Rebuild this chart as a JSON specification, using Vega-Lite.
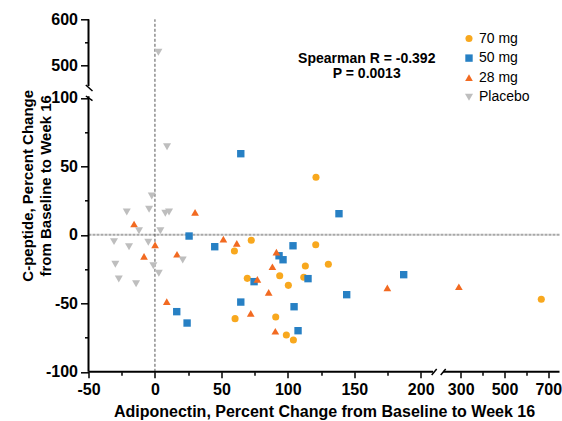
{
  "$schema": "https://vega.github.io/schema/vega-lite/v6.json",
  "autosize": {"type": "none"},
  "width": 471,
  "height": 352.5,
  "padding": {"left": 88.5, "top": 19.3, "right": 2.5, "bottom": 49.2},
  "background": "white",
  "config": {"view": {"stroke": null}, "font": "Liberation Sans"},
  "datasets": {
    "points": [
      {"group": "70 mg", "x": 72.5, "y": -4.0},
      {"group": "70 mg", "x": 59.8, "y": -11.8},
      {"group": "70 mg", "x": 69.5, "y": -31.8},
      {"group": "70 mg", "x": 60.3, "y": -61.2},
      {"group": "70 mg", "x": 121.2, "y": 42.0},
      {"group": "70 mg", "x": 121.0, "y": -7.2},
      {"group": "70 mg", "x": 113.2, "y": -22.8},
      {"group": "70 mg", "x": 130.5, "y": -21.5},
      {"group": "70 mg", "x": 93.9, "y": -29.9},
      {"group": "70 mg", "x": 112.0, "y": -31.0},
      {"group": "70 mg", "x": 100.4, "y": -36.9},
      {"group": "70 mg", "x": 90.9, "y": -60.0},
      {"group": "70 mg", "x": 98.9, "y": -73.1},
      {"group": "70 mg", "x": 104.2, "y": -76.8},
      {"group": "70 mg", "x": 668, "y": -47.1},
      {"group": "50 mg", "x": 64.6, "y": 59.2},
      {"group": "50 mg", "x": 25.7, "y": -0.9},
      {"group": "50 mg", "x": 45.0, "y": -8.7},
      {"group": "50 mg", "x": 74.6, "y": -34.2},
      {"group": "50 mg", "x": 64.6, "y": -49.1},
      {"group": "50 mg", "x": 16.4, "y": -56.1},
      {"group": "50 mg", "x": 24.2, "y": -64.4},
      {"group": "50 mg", "x": 138.5, "y": 15.4},
      {"group": "50 mg", "x": 103.9, "y": -8.0},
      {"group": "50 mg", "x": 93.4, "y": -15.3},
      {"group": "50 mg", "x": 96.4, "y": -18.2},
      {"group": "50 mg", "x": 115.2, "y": -32.0},
      {"group": "50 mg", "x": 144.3, "y": -43.7},
      {"group": "50 mg", "x": 187.2, "y": -29.1},
      {"group": "50 mg", "x": 104.7, "y": -52.5},
      {"group": "50 mg", "x": 107.7, "y": -70.0},
      {"group": "28 mg", "x": -15.7, "y": 7.9},
      {"group": "28 mg", "x": 30.2, "y": 16.4},
      {"group": "28 mg", "x": 0.1, "y": -7.4},
      {"group": "28 mg", "x": 51.5, "y": -3.1},
      {"group": "28 mg", "x": 61.6, "y": -6.2},
      {"group": "28 mg", "x": -8.2, "y": -15.7},
      {"group": "28 mg", "x": 16.6, "y": -14.2},
      {"group": "28 mg", "x": 77.1, "y": -32.5},
      {"group": "28 mg", "x": 8.9, "y": -48.8},
      {"group": "28 mg", "x": 72.1, "y": -57.3},
      {"group": "28 mg", "x": 91.4, "y": -12.6},
      {"group": "28 mg", "x": 88.4, "y": -23.3},
      {"group": "28 mg", "x": 85.6, "y": -42.0},
      {"group": "28 mg", "x": 174.9, "y": -38.8},
      {"group": "28 mg", "x": 90.6, "y": -70.4},
      {"group": "28 mg", "x": 295.4, "y": -37.9},
      {"group": "Placebo", "x": 2.6, "y": 527.8},
      {"group": "Placebo", "x": 9.1, "y": 64.3},
      {"group": "Placebo", "x": -2.4, "y": 28.3},
      {"group": "Placebo", "x": -21.2, "y": 16.6},
      {"group": "Placebo", "x": -4.4, "y": 18.6},
      {"group": "Placebo", "x": 7.8, "y": 15.7},
      {"group": "Placebo", "x": 10.6, "y": 16.6},
      {"group": "Placebo", "x": -12.0, "y": 3.0},
      {"group": "Placebo", "x": 4.1, "y": 3.0},
      {"group": "Placebo", "x": -30.8, "y": -5.0},
      {"group": "Placebo", "x": -19.5, "y": -8.7},
      {"group": "Placebo", "x": -5.0, "y": -5.5},
      {"group": "Placebo", "x": -29.8, "y": -21.5},
      {"group": "Placebo", "x": -1.2, "y": -22.6},
      {"group": "Placebo", "x": 2.9, "y": -28.1},
      {"group": "Placebo", "x": -27.2, "y": -32.3},
      {"group": "Placebo", "x": -14.2, "y": -35.7},
      {"group": "Placebo", "x": 20.9, "y": -18.4}
    ]
  },
  "encoding": {
    "x": {
      "field": "x",
      "type": "quantitative",
      "scale": {"type": "linear", "domain": [-50, 200, 300, 700, 750], "range": [0, 332.2, 372.2, 459.8, 471], "nice": false, "zero": false},
      "axis": {
        "values": [-50, -25, 0, 25, 50, 75, 100, 125, 150, 175, 200, 300, 400, 500, 600, 700],
        "labelExpr": "indexof([-50,0,50,100,150,200,300,500,700], datum.value) >= 0 ? '' + datum.value : ''",
        "domain": false,
        "grid": false,
        "ticks": true,
        "tickColor": "black",
        "tickWidth": 1.5,
        "tickSize": {"condition": {"test": "indexof([-50,0,50,100,150,200,300,500,700], datum.value) >= 0", "value": 6}, "value": 3.5},
        "labelOverlap": false,
        "labelFlush": false,
        "labelBound": false,
        "labelFont": "Liberation Sans",
        "labelFontSize": 16,
        "labelFontWeight": "bold",
        "labelColor": "black",
        "labelPadding": 4,
        "title": "Adiponectin, Percent Change from Baseline to Week 16",
        "titleFont": "Liberation Sans",
        "titleFontSize": 16,
        "titleFontWeight": "bold",
        "titleColor": "black",
        "titleBaseline": "middle",
        "titleY": 40
      }
    },
    "y": {
      "field": "y",
      "type": "quantitative",
      "scale": {"type": "linear", "domain": [-100, 100, 500, 600], "range": [352.5, 78.5, 45.7, 0], "nice": false, "zero": false},
      "axis": {
        "values": [-100, -75, -50, -25, 0, 25, 50, 75, 100, 500, 550, 600],
        "labelExpr": "indexof([-100,-50,0,50,100,500,600], datum.value) >= 0 ? '' + datum.value : ''",
        "domain": false,
        "grid": false,
        "tickColor": "black",
        "tickWidth": 1.5,
        "tickSize": {"condition": {"test": "indexof([-100,-50,0,50,100,500,600], datum.value) >= 0", "value": 8}, "value": 4},
        "labelOverlap": false,
        "labelFlush": false,
        "labelBound": false,
        "labelFont": "Liberation Sans",
        "labelFontSize": 16,
        "labelFontWeight": "bold",
        "labelColor": "black",
        "labelPadding": 3,
        "title": ["C-peptide, Percent Change", "from Baseline to Week 16"],
        "titleFont": "Liberation Sans",
        "titleFontSize": 15,
        "titleFontWeight": "bold",
        "titleColor": "black",
        "titleLineHeight": 18,
        "titleAngle": -90,
        "titleAlign": "center",
        "titleBaseline": "middle",
        "titleX": -61,
        "titleY": 166
      }
    }
  },
  "layer": [
    {
      "data": {"values": [{"x": -50, "x2": 750, "y": 0}]},
      "mark": {"type": "rule", "color": "#a8a8a8", "strokeWidth": 2, "strokeDash": [3, 1]},
      "encoding": {"x2": {"field": "x2"}}
    },
    {
      "data": {"values": [{"x": 0, "y": -100, "y2": 600}]},
      "mark": {"type": "rule", "color": "#555555", "strokeWidth": 1, "strokeDash": [3, 2]},
      "encoding": {"y2": {"field": "y2"}}
    },
    {
      "data": {"values": [{"x": -50, "y": -100, "y2": 118}, {"x": -50, "y": 244, "y2": 600}]},
      "mark": {"type": "rule", "color": "black", "strokeWidth": 2},
      "encoding": {"y2": {"field": "y2"}}
    },
    {
      "data": {"values": [{"x": -50, "x2": 231, "y": -100}, {"x": 256, "x2": 750, "y": -100}]},
      "mark": {"type": "rule", "color": "black", "strokeWidth": 2},
      "encoding": {"x2": {"field": "x2"}}
    },
    {
      "data": {"values": [
        {"x": -52, "x2": -47, "y": 256, "y2": 183},
        {"x": -52, "x2": -47, "y": 122, "y2": 98},
        {"x": 227.5, "x2": 240, "y": -102.3, "y2": -98},
        {"x": 250, "x2": 262.5, "y": -102.3, "y2": -98}
      ]},
      "mark": {"type": "rule", "color": "black", "strokeWidth": 1.5},
      "encoding": {"x2": {"field": "x2"}, "y2": {"field": "y2"}}
    },
    {
      "data": {"values": [
        {"x": 159.4, "y": 514.2, "label": "Spearman R = -0.392"},
        {"x": 159.4, "y": 390, "label": "P = 0.0013"}
      ]},
      "mark": {"type": "text", "font": "Liberation Sans", "fontSize": 14, "fontWeight": "bold", "color": "black", "align": "center", "baseline": "middle"},
      "encoding": {"text": {"field": "label"}}
    },
    {
      "data": {"name": "points"},
      "mark": {"type": "point", "filled": true, "opacity": 1, "strokeWidth": 0},
      "encoding": {
        "color": {
          "field": "group", "type": "nominal",
          "scale": {"domain": ["70 mg", "50 mg", "28 mg", "Placebo"], "range": ["#F8A81E", "#2780C4", "#F26A21", "#BEBEBE"]},
          "legend": {"orient": "none", "legendX": 373.5, "legendY": 12.2, "title": null, "labelFont": "Liberation Sans", "labelFontSize": 14, "labelColor": "black", "rowPadding": 5.6, "labelOffset": 3, "padding": 0, "symbolStrokeWidth": 0, "symbolOpacity": 1}
        },
        "shape": {
          "field": "group", "type": "nominal",
          "scale": {"domain": ["70 mg", "50 mg", "28 mg", "Placebo"], "range": ["circle", "square", "triangle-up", "triangle-down"]},
          "legend": {"orient": "none", "legendX": 373.5, "legendY": 12.2, "title": null, "labelFont": "Liberation Sans", "labelFontSize": 14, "labelColor": "black", "rowPadding": 5.6, "labelOffset": 3, "padding": 0, "symbolStrokeWidth": 0, "symbolOpacity": 1}
        },
        "size": {
          "field": "group", "type": "nominal",
          "scale": {"domain": ["70 mg", "50 mg", "28 mg", "Placebo"], "range": [50, 64, 55, 55]},
          "legend": {"orient": "none", "legendX": 373.5, "legendY": 12.2, "title": null, "labelFont": "Liberation Sans", "labelFontSize": 14, "labelColor": "black", "rowPadding": 5.6, "labelOffset": 3, "padding": 0, "symbolStrokeWidth": 0, "symbolOpacity": 1}
        }
      }
    }
  ]
}
